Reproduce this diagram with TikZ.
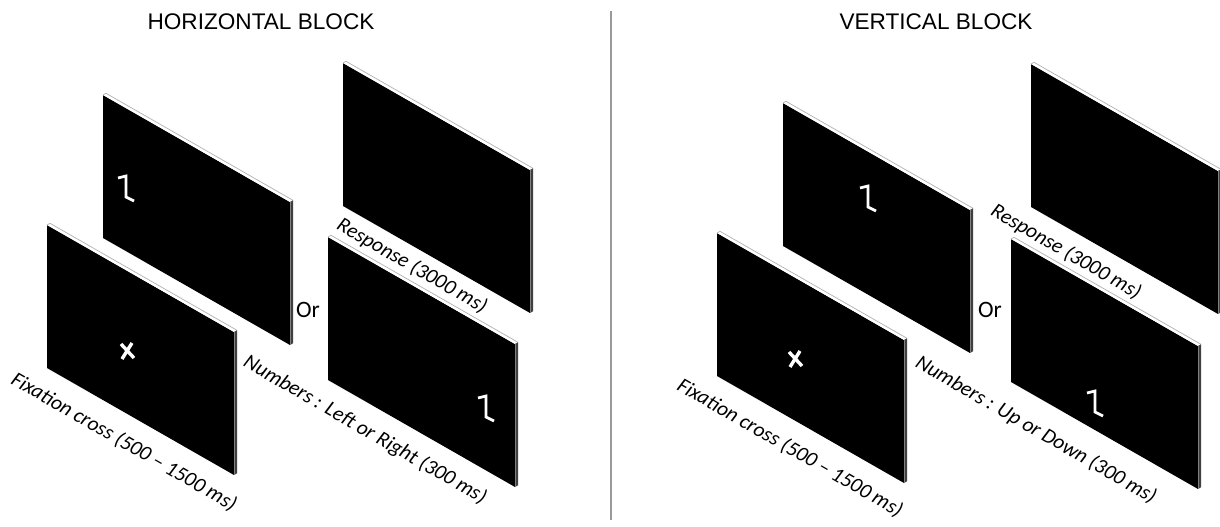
\documentclass[tikz,border=0pt]{standalone}
\usepackage{fontspec}
\setmainfont{Carlito}
\newfontfamily\calfont{Carlito}
\newfontfamily\arialfont{Liberation Sans}
\tikzset{
  screen/.pic={
    \fill[black] (0,0) -- (187,107) -- (187,250) -- (0,143) -- cycle;
    \fill[white] (0,0) -- (187,107) -- (190,105.3) -- (3,-1.7) -- cycle;
    \draw[gray!60, line width=0.7] (0,0) -- (3,-1.7) -- (190,105.3);
    \fill[black!75] (187,107) -- (187,250) -- (190,248.3) -- (190,105.3) -- cycle;
    \draw[black!50, line width=0.6] (187,107) -- (187,250);
  },
  one/.pic={
    \draw[white, line width=2.7, line cap=butt, line join=miter] (-8,-10) -- (0,-12) -- (0,9) -- (8,13);
  },
  cross/.pic={
    \draw[white, line width=3.4] (-6,-7) -- (7,7);
    \draw[white, line width=3.4] (5,-8) -- (-5,8);
  },
  title/.style={font=\arialfont\fontsize{22.6}{26}\selectfont, inner sep=0},
  ortext/.style={font=\calfont\fontsize{23.5}{28}\selectfont, inner sep=0},
  slanted/.style={font=\calfont\itshape\fontsize{21}{25}\selectfont, rotate=-30, inner sep=0},
}
\begin{document}
\begin{tikzpicture}[x=1pt,y=-1pt]
\useasboundingbox (0,0) rectangle (1220,527);
\fill[white] (0,0) rectangle (1220,527);
% divider
\coordinate (dtop) at (611,11);
\coordinate (dbot) at (611,520);
\draw[gray!80, line width=1.4] (dtop) -- (dbot);
% titles
\node[title] (th) at (261,22) {HORIZONTAL BLOCK};
\node[title] (tv) at (936,22) {VERTICAL BLOCK};
% left block screens
\pic (A) at (103,95) {screen};
\pic (B) at (343,63) {screen};
\pic (C) at (47,225) {screen};
\pic (D) at (328,237) {screen};
\pic (A1) at (126,188) {one};
\pic (D1) at (486,408) {one};
\pic (Cx) at (127,351) {cross};
% right block screens
\pic (E) at (783,103) {screen};
\pic (F) at (1031,64) {screen};
\pic (G) at (717,233) {screen};
\pic (H) at (1011,239) {screen};
\pic (E1) at (868,198) {one};
\pic (H1) at (1095,403) {one};
\pic (Gx) at (795,359) {cross};
% labels
\node[ortext] (or1) at (308,310) {Or};
\node[ortext] (or2) at (990,310) {Or};
\node[slanted] (fix1) at (124,442) {Fixation cross (500 – 1500 ms)};
\node[slanted] (fix2) at (790,448) {Fixation cross (500 – 1500 ms)};
\node[slanted] (num1) at (365,430) {Numbers : Left or Right (300 ms)};
\node[slanted] (num2) at (1036,430) {Numbers : Up or Down (300 ms)};
\node[slanted] (resp1) at (412,266) {Response (3000 ms)};
\node[slanted] (resp2) at (1066,252) {Response (3000 ms)};
\end{tikzpicture}
\end{document}
